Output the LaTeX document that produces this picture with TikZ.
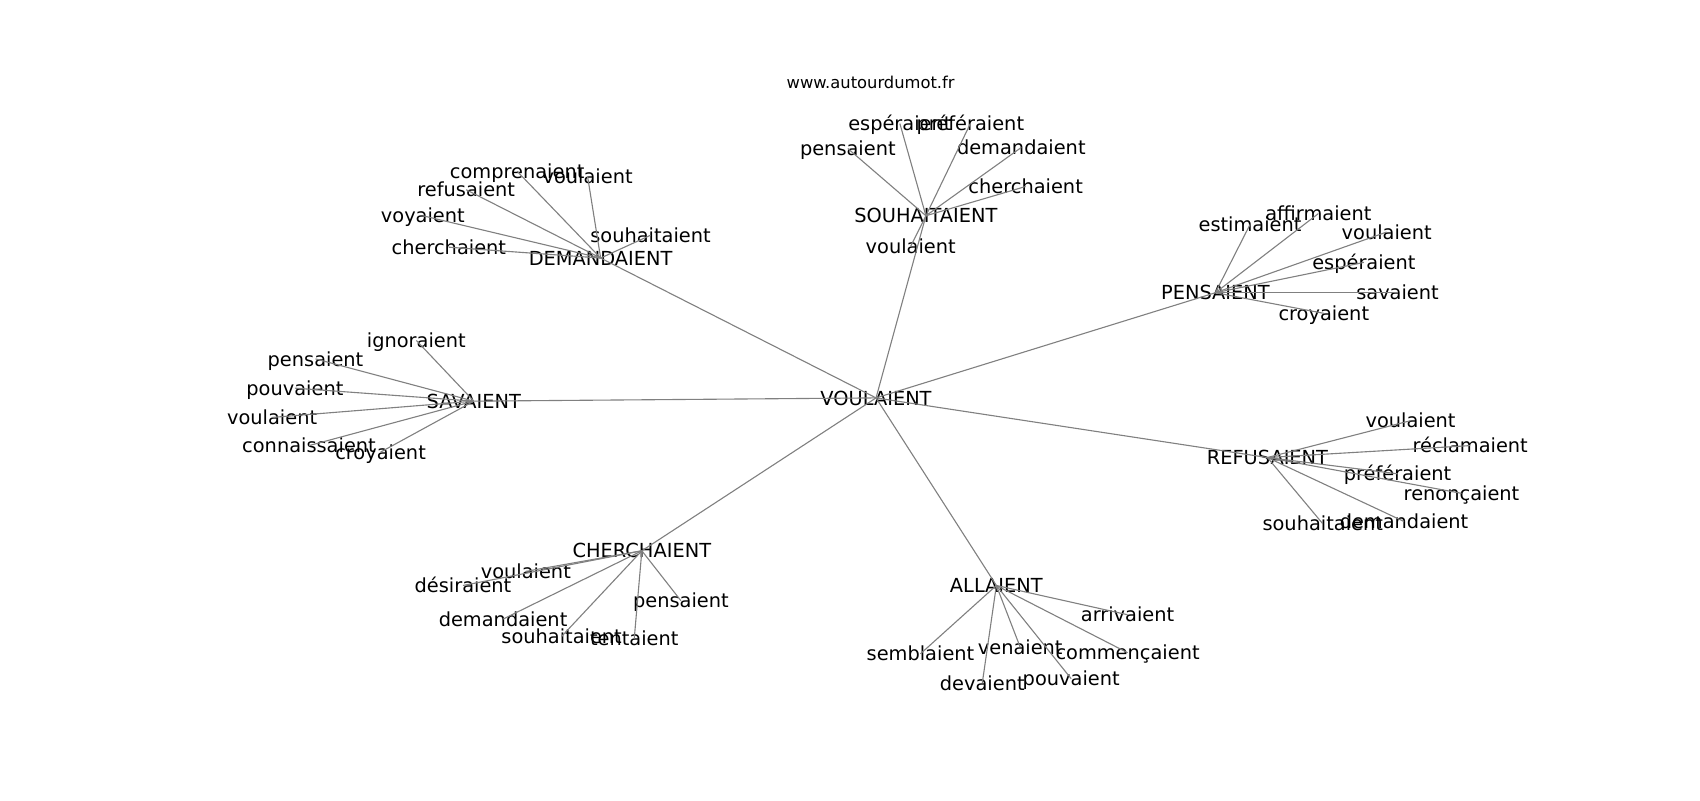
\documentclass[tikz,border=0pt]{standalone}
\usepackage{fontspec}
\setmainfont{DejaVu Sans}
\begin{document}
\begin{tikzpicture}[x=0.7836pt,y=-0.7836pt,
  lbl/.style={inner sep=0pt,font=\fontsize{14}{16}\selectfont,text height=12pt,text depth=1.6pt},
  ttl/.style={inner sep=0pt,font=\fontsize{11.8}{14}\selectfont,text height=10.4pt,text depth=1.2pt},
  edge/.style={draw=gray,line width=0.8pt}]
\useasboundingbox (0,0) rectangle (1568,738);
\node[ttl] (title) at (803,76) {www.autourdumot.fr};
% hubs
\node[lbl] (v) at (808,367) {VOULAIENT};
\node[lbl] (d) at (554,238) {DEMANDAIENT};
\node[lbl] (s) at (854,199) {SOUHAITAIENT};
\node[lbl] (p) at (1121,270) {PENSAIENT};
\node[lbl] (sa) at (437,370) {SAVAIENT};
\node[lbl] (r) at (1169,422) {REFUSAIENT};
\node[lbl] (c) at (592,508) {CHERCHAIENT};
\node[lbl] (a) at (919,540) {ALLAIENT};
% DEMANDAIENT leaves
\node[lbl] (d1) at (477,158) {comprenaient};
\node[lbl] (d2) at (542,163) {voulaient};
\node[lbl] (d3) at (430,175) {refusaient};
\node[lbl] (d4) at (390,199) {voyaient};
\node[lbl] (d5) at (414,228) {cherchaient};
\node[lbl] (d6) at (600,217) {souhaitaient};
% SOUHAITAIENT leaves
\node[lbl] (s1) at (830,114) {espéraient};
\node[lbl] (s2) at (895,114) {préféraient};
\node[lbl] (s3) at (782,137) {pensaient};
\node[lbl] (s4) at (942,136) {demandaient};
\node[lbl] (s5) at (946,172) {cherchaient};
\node[lbl] (s6) at (840,227) {voulaient};
% PENSAIENT leaves
\node[lbl] (p1) at (1153,207) {estimaient};
\node[lbl] (p2) at (1216,197) {affirmaient};
\node[lbl] (p3) at (1279,214) {voulaient};
\node[lbl] (p4) at (1258,242) {espéraient};
\node[lbl] (p5) at (1289,270) {savaient};
\node[lbl] (p6) at (1221,289) {croyaient};
% SAVAIENT leaves
\node[lbl] (sa1) at (384,314) {ignoraient};
\node[lbl] (sa2) at (291,331) {pensaient};
\node[lbl] (sa3) at (272,358) {pouvaient};
\node[lbl] (sa4) at (251,385) {voulaient};
\node[lbl] (sa5) at (285,411) {connaissaient};
\node[lbl] (sa6) at (351,417) {croyaient};
% REFUSAIENT leaves
\node[lbl] (r1) at (1301,388) {voulaient};
\node[lbl] (r2) at (1356,411) {réclamaient};
\node[lbl] (r3) at (1289,437) {préféraient};
\node[lbl] (r4) at (1348,455) {renonçaient};
\node[lbl] (r5) at (1295,481) {demandaient};
\node[lbl] (r6) at (1220,483) {souhaitaient};
% CHERCHAIENT leaves
\node[lbl] (c1) at (485,527) {voulaient};
\node[lbl] (c2) at (427,540) {désiraient};
\node[lbl] (c3) at (464,571) {demandaient};
\node[lbl] (c4) at (518,587) {souhaitaient};
\node[lbl] (c5) at (585,589) {tentaient};
\node[lbl] (c6) at (628,554) {pensaient};
% ALLAIENT leaves
\node[lbl] (a1) at (1040,567) {arrivaient};
\node[lbl] (a2) at (849,603) {semblaient};
\node[lbl] (a3) at (941,597) {venaient};
\node[lbl] (a4) at (1040,602) {commençaient};
\node[lbl] (a5) at (906,630) {devaient};
\node[lbl] (a6) at (988,626) {pouvaient};
% edges
\foreach \h in {d,s,p,sa,r,c,a} \draw[edge] (v.center) -- (\h.center);
\foreach \h in {d,s,p,sa,r,c,a}
  \foreach \i in {1,...,6} \draw[edge] (\h.center) -- (\h\i.center);
\end{tikzpicture}
\end{document}
